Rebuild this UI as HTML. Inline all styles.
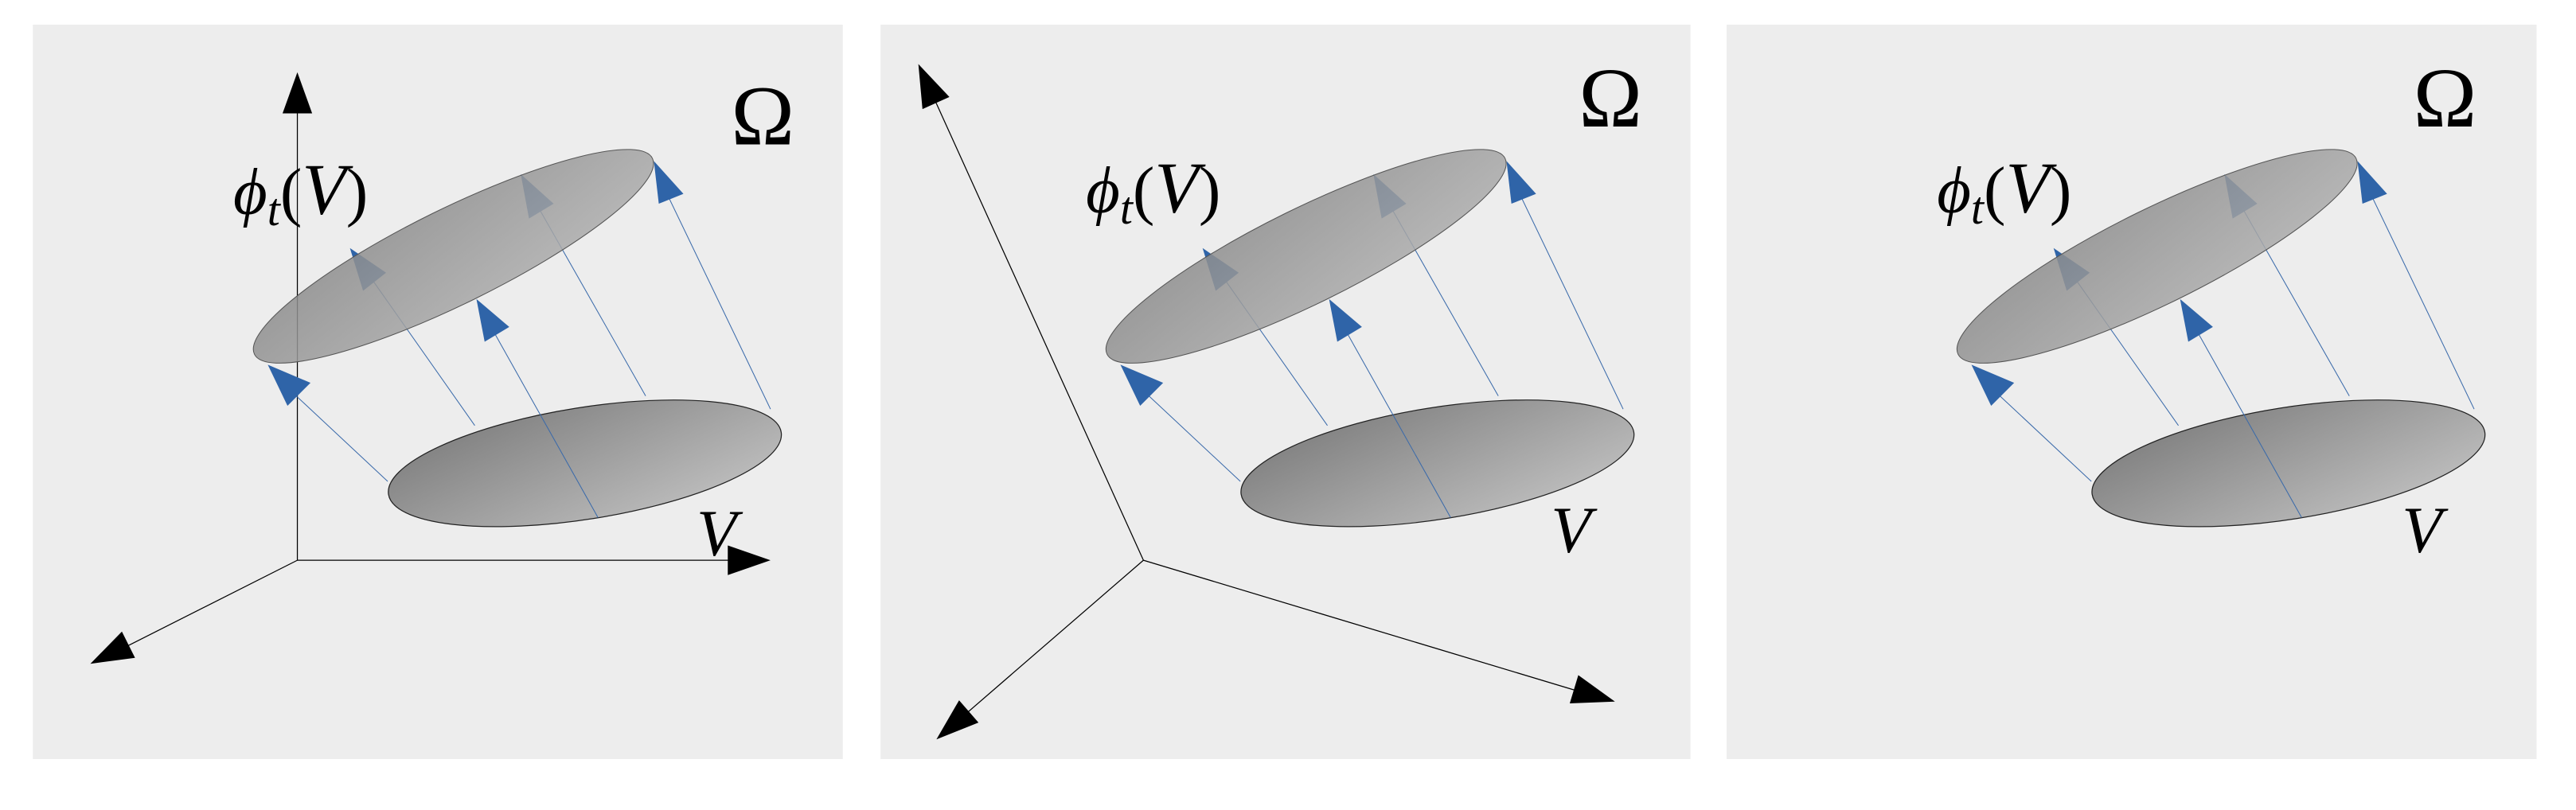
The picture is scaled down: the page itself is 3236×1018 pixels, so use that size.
<!DOCTYPE html>
<html><head><meta charset="utf-8"><style>
html,body{margin:0;padding:0;background:#fff;}
svg{display:block;}
text{font-family:"Liberation Serif","DejaVu Serif",serif;fill:#000;}
</style></head><body>
<svg width="3236" height="1018" viewBox="0 0 1568 493" preserveAspectRatio="none" xmlns="http://www.w3.org/2000/svg">
<defs>
<linearGradient id="g1" x1="0" y1="0" x2="1" y2="1">
<stop offset="0" stop-color="#7a7a7a"/><stop offset="1" stop-color="#c4c4c4"/>
</linearGradient>
<linearGradient id="g2" x1="0" y1="0" x2="1" y2="1">
<stop offset="0" stop-color="#888"/><stop offset="1" stop-color="#b0b0b0"/>
</linearGradient>
<g id="fig">
  <ellipse cx="356" cy="282" rx="121" ry="34" transform="rotate(-9 356 282)" fill="url(#g1)" stroke="#222" stroke-width="0.6"/>
  <g stroke="#3a6aaa" stroke-width="0.5">
    <line x1="236" y1="293" x2="175" y2="236"/>
    <line x1="289" y1="259" x2="225" y2="168"/>
    <line x1="364" y1="315" x2="300" y2="201"/>
    <line x1="393" y1="241" x2="327" y2="125"/>
    <line x1="469" y1="249" x2="406" y2="118"/>
  </g>
  <polygon points="213,151 221,177 235,166" fill="#2f64a8"/>
  <polygon points="317,106 322,133 337,124" fill="#2f64a8"/>
  <ellipse cx="276" cy="156" rx="135" ry="29" transform="rotate(-26.2 276 156)" fill="url(#g2)" fill-opacity="0.85" stroke="#555" stroke-width="0.5"/>
  <polygon points="163,222 175,247 189,233" fill="#2f64a8"/>
  <polygon points="290,182 295,208 310,199" fill="#2f64a8"/>
  <polygon points="398,98 401,124 416,118" fill="#2f64a8"/>
</g>
</defs>

<rect x="20" y="15" width="493" height="447" fill="#ededed"/>
<rect x="536" y="15" width="493" height="447" fill="#ededed"/>
<rect x="1051" y="15" width="493" height="447" fill="#ededed"/>

<g stroke="#000" stroke-width="0.6">
  <line x1="181" y1="341" x2="181" y2="60"/>
  <line x1="181" y1="341" x2="450" y2="341"/>
  <line x1="181" y1="341" x2="72" y2="396"/>
</g>
<polygon points="181,44 172,69 190,69" fill="#000"/>
<polygon points="469,341 443,332 443,350" fill="#000"/>
<polygon points="55,404 82.2,400.4 74.2,384.4" fill="#000"/>
<use href="#fig"/>
<text x="445" y="88" font-size="52">Ω</text>
<text x="142" y="130" font-size="40" font-style="italic">ϕ<tspan font-size="28" dy="7">t</tspan><tspan dy="-7" font-style="normal">(</tspan><tspan font-size="44">V</tspan><tspan font-style="normal">)</tspan></text>
<text x="424" y="338" font-size="40" font-style="italic">V</text>

<g stroke="#000" stroke-width="0.6">
  <line x1="696" y1="341" x2="565" y2="52"/>
  <line x1="696" y1="341" x2="965" y2="422"/>
  <line x1="696" y1="341" x2="585" y2="437"/>
</g>
<polygon points="559,39 577.9,59 561.5,66.4" fill="#000"/>
<polygon points="983,427 955.5,428.1 960.7,410.9" fill="#000"/>
<polygon points="570,450 595.6,439.8 583.8,426.2" fill="#000"/>
<use href="#fig" transform="translate(519,0)"/>
<text x="961" y="77" font-size="52">Ω</text>
<text x="661" y="129" font-size="40" font-style="italic">ϕ<tspan font-size="28" dy="7">t</tspan><tspan dy="-7" font-style="normal">(</tspan><tspan font-size="44">V</tspan><tspan font-style="normal">)</tspan></text>
<text x="944" y="336" font-size="40" font-style="italic">V</text>

<use href="#fig" transform="translate(1037,0)"/>
<text x="1469" y="77" font-size="52">Ω</text>
<text x="1179" y="129" font-size="40" font-style="italic">ϕ<tspan font-size="28" dy="7">t</tspan><tspan dy="-7" font-style="normal">(</tspan><tspan font-size="44">V</tspan><tspan font-style="normal">)</tspan></text>
<text x="1462" y="336" font-size="40" font-style="italic">V</text>
</svg>
</body></html>
